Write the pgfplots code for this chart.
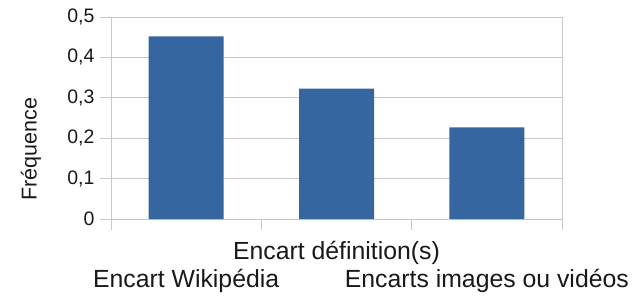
\documentclass[border=0pt]{standalone}
\usepackage{pgfplots}
\pgfplotsset{compat=1.18}
\usepackage{fontspec}
\setmainfont{Liberation Sans}
\definecolor{barblue}{RGB}{54,102,160}
\definecolor{gridgray}{RGB}{200,200,200}
\definecolor{txt}{RGB}{25,25,25}
\begin{document}
\begin{tikzpicture}[x=1bp,y=1bp]
\useasboundingbox (0,0) rectangle (639,298);
\begin{axis}[
  at={(111bp,79bp)}, anchor=south west,
  scale only axis, width=451bp, height=202bp,
  xmin=-0.5, xmax=2.5, ymin=0, ymax=0.5,
  axis line style={gridgray, line width=0.8pt},
  xtick={-0.5,0.5,1.5,2.5}, xticklabels={},
  ytick={0,0.1,0.2,0.3,0.4,0.5},
  xtick pos=bottom, ytick pos=left,
  tick align=outside, major tick length=11bp,
  tick style={gridgray, line width=0.8pt},
  ymajorgrids, grid style={gridgray, line width=0.8pt},
  /pgf/number format/assume math mode=true,
  /pgf/number format/.cd, use comma, fixed, precision=1, /pgfplots/.cd,
  yticklabel style={font=\fontsize{19.5bp}{22bp}\selectfont, text=txt, xshift=-2bp},
  ybar, bar width=75bp, bar shift=0pt,
  clip=false,
]
\addplot[fill=barblue, draw=none] coordinates {(0,0.452) (1,0.323) (2,0.227)};
\node[anchor=base, font=\fontsize{24.8bp}{28bp}\selectfont, text=txt, yshift=-40bp] at (axis cs:1,0) {Encart définition(s)};
\node[anchor=base, font=\fontsize{24.8bp}{28bp}\selectfont, text=txt, yshift=-68bp] at (axis cs:0,0) {Encart Wikipédia};
\node[anchor=base, font=\fontsize{24.8bp}{28bp}\selectfont, text=txt, yshift=-68bp] at (axis cs:2,0) {Encarts images ou vidéos};
\end{axis}
\node[rotate=90, font=\fontsize{21.5bp}{24bp}\selectfont, text=txt] at (31,149) {Fréquence};
\end{tikzpicture}
\end{document}
